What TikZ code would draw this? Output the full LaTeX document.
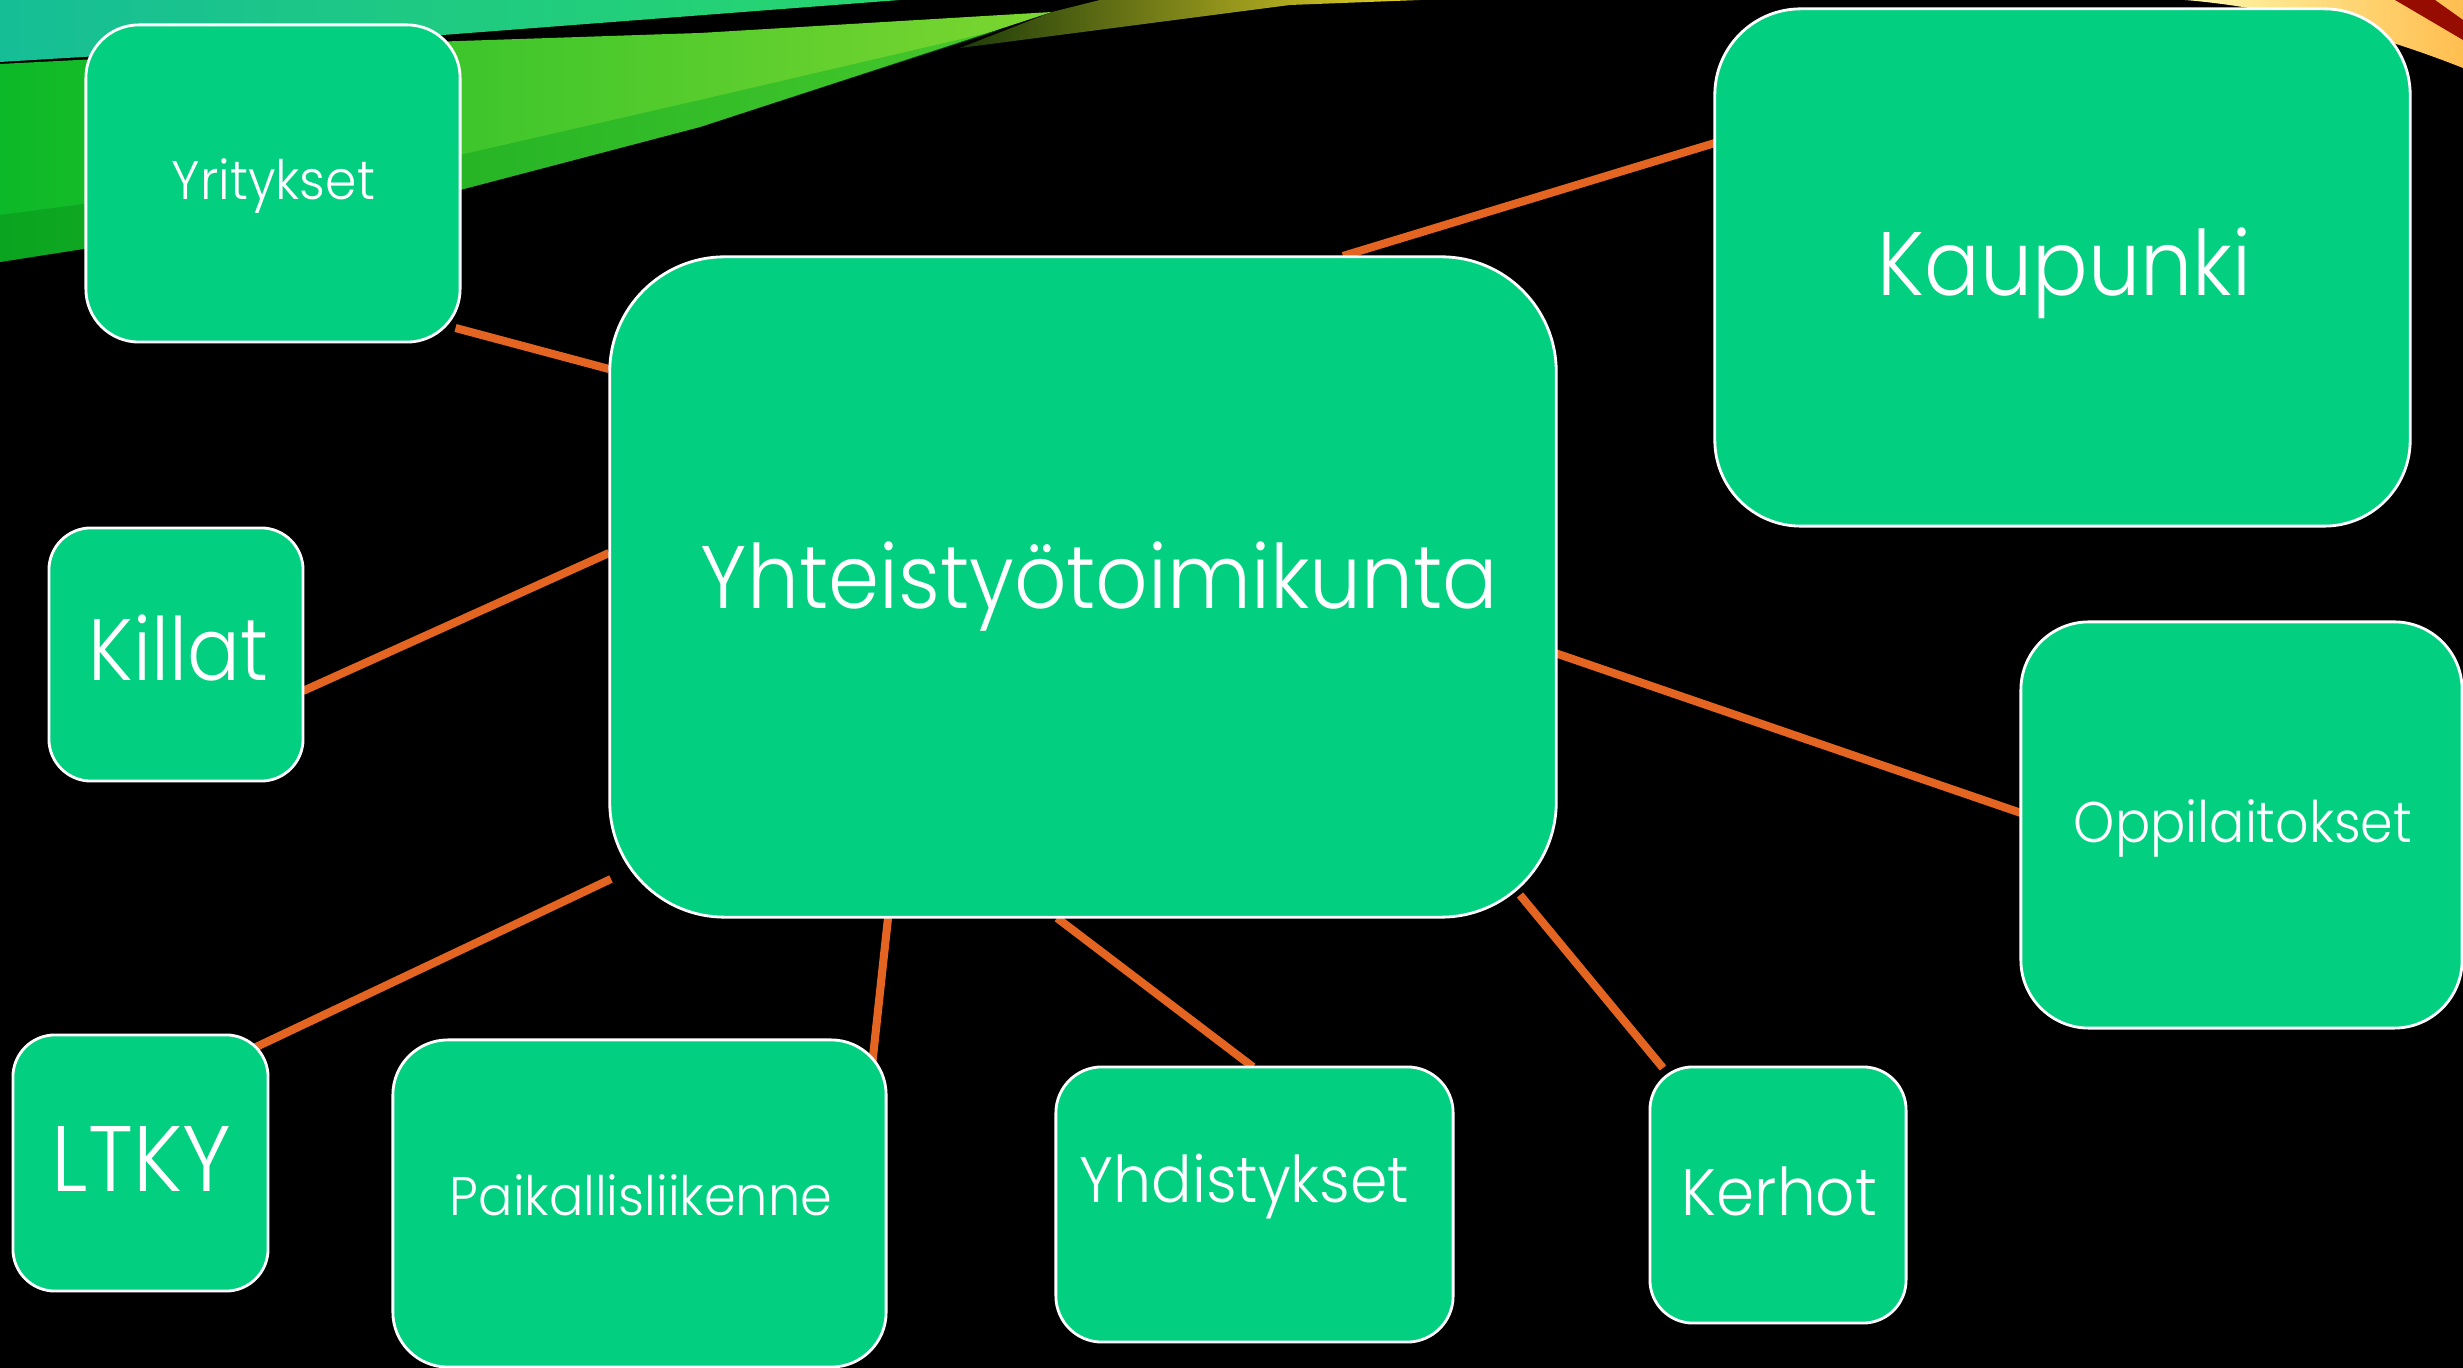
\documentclass[tikz,border=0pt]{standalone}
\usepackage{fontspec}
\IfFontExistsTF{Poppins Light}{\setmainfont{Poppins Light}}{\setmainfont{Poppins}}
\usetikzlibrary{calc}
\pgfdeclarelayer{bg}
\pgfdeclarelayer{lines}
\pgfsetlayers{bg,lines,main}

\definecolor{boxgreen}{RGB}{2,208,128}
\definecolor{linkorange}{RGB}{228,100,34}
\definecolor{tealA}{RGB}{22,190,150}
\definecolor{tealB}{RGB}{40,214,110}
\definecolor{grnA}{RGB}{12,185,40}
\definecolor{grnB}{RGB}{24,228,64}
\definecolor{grnC}{RGB}{125,214,48}
\definecolor{grnDark}{RGB}{10,140,24}
\definecolor{oliveA}{RGB}{30,60,10}
\definecolor{oliveB}{RGB}{232,212,40}
\definecolor{yelA}{RGB}{255,248,170}
\definecolor{yelB}{RGB}{255,190,80}
\definecolor{redStripe}{RGB}{150,12,0}

\newsavebox\fitbox
\newlength\fitw
\newlength\fith
\newcommand{\fittext}[3]{%
  \sbox\fitbox{#3}\setlength\fitw{\wd\fitbox}%
  \sbox\fitbox{H}\setlength\fith{\ht\fitbox}%
  \pgfmathsetmacro\fitsx{#1*0.2845275/\fitw}%
  \pgfmathsetmacro\fitsy{#2*0.2845275/\fith}%
  \scalebox{\fitsx}[\fitsy]{#3}}

\tikzset{
  box/.style={draw=white, line width=0.8pt, fill=boxgreen, rounded corners=#1,
    inner sep=0pt, outer sep=0pt},
  conn/.style={draw=linkorange, line width=2.3pt},
  lbl/.style={text=white, inner sep=0pt, anchor=base, font=\fontsize{20}{24}\selectfont}
}

\begin{document}
\begin{tikzpicture}[x=0.01cm, y=-0.01cm]
\useasboundingbox (0,0) rectangle (2463,1368);

% background
\begin{pgfonlayer}{bg}
\fill[black] (0,0) rectangle (2463,1368);
\shade[left color=tealA, right color=tealB] (0,0) -- (900,0) -- (430,36) -- (0,62) -- cycle;
\shade[left color=grnA, middle color=grnB, right color=grnC]
  (0,64) -- (430,42) -- (700,33) -- (1052,12) -- (700,127) -- (460,190) -- (0,262) -- cycle;
\shade[left color=grnDark, right color=grnA, opacity=0.45]
  (0,215) -- (460,155) -- (700,100) -- (1000,30) -- (700,127) -- (460,190) -- (0,262) -- cycle;
\shade[left color=oliveA, right color=oliveB]
  (960,48) -- (1052,12) -- (1100,0) -- (1420,0) -- (1290,5) -- cycle;
\shade[left color=yelA, right color=yelB]
  (2185,0) -- (2463,0) -- (2463,68) .. controls (2380,35) and (2280,8) .. (2185,0) -- cycle;
\fill[redStripe] (2395,0) -- (2435,0) -- (2463,20) -- (2463,40) -- cycle;
\end{pgfonlayer}

% boxes
\node[box=1.15cm, minimum width=9.46cm, minimum height=6.6cm] (ctr) at (1083,587) {};
\node[box=0.53cm, minimum width=3.74cm, minimum height=3.17cm] (yri) at (273,183.5) {};
\node[box=0.86cm, minimum width=6.95cm, minimum height=5.17cm] (kau) at (2062.5,267.5) {};
\node[box=0.42cm, minimum width=2.54cm, minimum height=2.53cm] (kil) at (176,654.5) {};
\node[box=0.42cm, minimum width=2.55cm, minimum height=2.56cm] (ltk) at (140.5,1163) {};
\node[box=0.55cm, minimum width=4.93cm, minimum height=3.27cm] (pai) at (639.5,1203.5) {};
\node[box=0.46cm, minimum width=3.97cm, minimum height=2.75cm] (yhd) at (1254.5,1204.5) {};
\node[box=0.43cm, minimum width=2.56cm, minimum height=2.56cm] (ker) at (1778,1195) {};
\node[box=0.68cm, minimum width=4.41cm, minimum height=4.06cm] (opp) at (2241.5,825) {};

% labels
\node[lbl] (ctrT) at (1099.5,609) {\fittext{797}{62}{Yhteistyötoimikunta}};
\node[lbl] (yriT) at (273.5,200) {\fittext{203}{38}{Yritykset}};
\node[lbl] (kauT) at (2064.5,296) {\fittext{373}{63}{Kaupunki}};
\node[lbl] (kilT) at (178.5,681) {\fittext{179}{61}{Killat}};
\node[lbl] (ltkT) at (141.5,1192) {\fittext{179}{65}{LTKY}};
\node[lbl] (paiT) at (641,1216) {\fittext{382}{38}{Paikallisliikenne}};
\node[lbl] (yhdT) at (1244.5,1203) {\fittext{329}{45}{Yhdistykset}};
\node[lbl] (kerT) at (1779.5,1216) {\fittext{195}{46}{Kerhot}};
\node[lbl] (oppT) at (2243,843) {\fittext{338}{40}{Oppilaitokset}};

% connectors (behind the boxes)
\begin{pgfonlayer}{lines}
\draw[conn] ([shift={(182.5,144.5)}]yri.center) -- ([shift={(-474,-218)}]ctr.center);
\draw[conn] ([shift={(127,36.5)}]kil.center) -- ([shift={(-474,-34)}]ctr.center);
\draw[conn] ([shift={(113.5,-115)}]ltk.center) -- ([shift={(-472,292)}]ctr.center);
\draw[conn] ([shift={(232.5,-137.5)}]pai.center) -- ([shift={(-195,331)}]ctr.center);
\draw[conn] ([shift={(-1.5,-137.5)}]yhd.center) -- ([shift={(-26,331)}]ctr.center);
\draw[conn] ([shift={(-115,-127)}]ker.center) -- ([shift={(437,308)}]ctr.center);
\draw[conn] ([shift={(-220.5,-12)}]opp.center) -- ([shift={(472,66)}]ctr.center);
\draw[conn] ([shift={(-347.5,-124.5)}]kau.center) -- ([shift={(260,-331)}]ctr.center);
\end{pgfonlayer}
\end{tikzpicture}
\end{document}
